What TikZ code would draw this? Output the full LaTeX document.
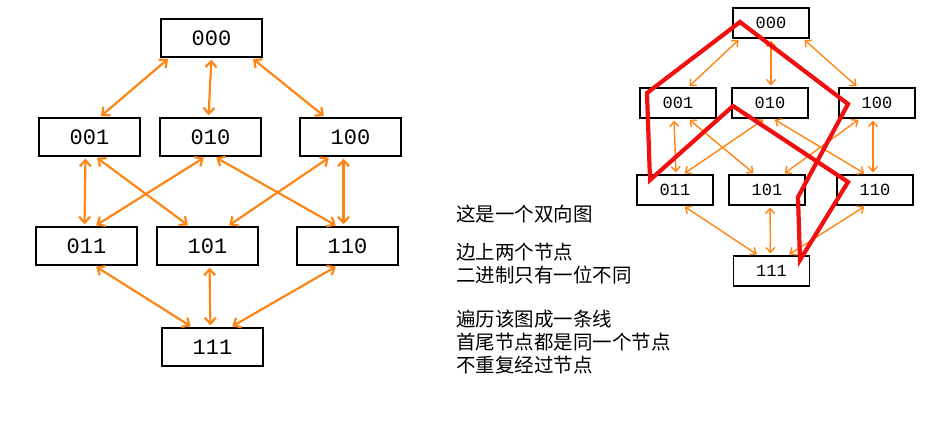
\documentclass[tikz,border=0pt]{standalone}
\usepackage{fontspec}
\setmonofont{Liberation Mono}
\newfontfamily\cjk{Noto Sans CJK SC}
\usetikzlibrary{arrows.meta}
\definecolor{org}{RGB}{255,133,20}
\definecolor{rd}{RGB}{240,16,16}
\begin{document}
\begin{tikzpicture}[x=1pt,y=-1pt,
 bigbox/.style={draw,line width=1.3pt,minimum width=101pt,minimum height=38pt,inner sep=0pt,font=\ttfamily\fontsize{22}{22}\selectfont},
 smallbox/.style={draw,line width=1.1pt,minimum width=76pt,minimum height=30pt,inner sep=0pt,font=\ttfamily\fontsize{17}{17}\selectfont},
 arr/.style={draw=org,line width=2.2pt,{Straight Barb[length=6pt,width=11pt]}-{Straight Barb[length=6pt,width=11pt]},shorten <=2pt,shorten >=2pt},
 sarr/.style={draw=org,line width=1.4pt,{Straight Barb[length=5pt,width=9pt]}-{Straight Barb[length=5pt,width=9pt]},shorten <=2pt,shorten >=2pt},
 txt/.style={anchor=north west,align=left,font=\cjk\fontsize{19.5}{23}\selectfont,inner sep=0pt}]
\useasboundingbox (0,0) rectangle (938,429);
% left
\node[bigbox] (a0) at (211.5,38) {000};
\node[bigbox] (a1) at (89.5,137) {001};
\node[bigbox] (a2) at (210.5,137) {010};
\node[bigbox] (a4) at (350.5,137) {100};
\node[bigbox] (a3) at (86.5,246) {011};
\node[bigbox] (a5) at (207.5,246) {101};
\node[bigbox] (a6) at (347.5,246) {110};
\node[bigbox] (a7) at (212.5,347) {111};
\draw[arr] ([xshift=-42pt]a0.south) -- ([xshift=10pt]a1.north);
\draw[arr] ([xshift=0pt]a0.south) -- ([xshift=-2pt]a2.north);
\draw[arr] ([xshift=40pt]a0.south) -- ([xshift=-25pt]a4.north);
\draw[arr] ([xshift=-4pt]a1.south) -- ([xshift=-2pt]a3.north);
\draw[arr] ([xshift=6pt]a1.south) -- ([xshift=-18pt]a5.north);
\draw[arr] ([xshift=-5pt]a2.south) -- ([xshift=8pt]a3.north);
\draw[arr] ([xshift=4pt]a2.south) -- ([xshift=-10pt]a6.north);
\draw[arr] ([xshift=-20pt]a4.south) -- ([xshift=20pt]a5.north);
\draw[arr] ([xshift=-7pt]a4.south) -- ([xshift=-4pt]a6.north);
\draw[arr] ([xshift=8pt]a3.south) -- ([xshift=-20pt]a7.north);
\draw[arr] ([xshift=2pt]a5.south) -- ([xshift=-2pt]a7.north);
\draw[arr] ([xshift=-10pt]a6.south) -- ([xshift=18pt]a7.north);
% text
\node[txt] (t1) at (456,205) {这是一个双向图};
\node[txt] (t2) at (456,243) {边上两个节点\\二进制只有一位不同};
\node[txt] (t3) at (456,310) {遍历该图成一条线\\首尾节点都是同一个节点\\不重复经过节点};
% right
\node[smallbox] (b0) at (771,23) {000};
\node[smallbox] (b1) at (678,103) {001};
\node[smallbox] (b2) at (770,103) {010};
\node[smallbox] (b4) at (877,103) {100};
\node[smallbox] (b3) at (675,190) {011};
\node[smallbox] (b5) at (767,190) {101};
\node[smallbox] (b6) at (875,190) {110};
\node[smallbox] (b7) at (771.5,271) {111};
\draw[sarr] ([xshift=-31pt]b0.south) -- ([xshift=10pt]b1.north);
\draw[sarr] ([xshift=0pt]b0.south) -- ([xshift=1pt]b2.north);
\draw[sarr] ([xshift=32pt]b0.south) -- ([xshift=-19pt]b4.north);
\draw[sarr] ([xshift=-4pt]b1.south) -- ([xshift=1pt]b3.north);
\draw[sarr] ([xshift=10pt]b1.south) -- ([xshift=-12pt]b5.north);
\draw[sarr] ([xshift=-5pt]b2.south) -- ([xshift=8pt]b3.north);
\draw[sarr] ([xshift=3pt]b2.south) -- ([xshift=-9pt]b6.north);
\draw[sarr] ([xshift=-17pt]b4.south) -- ([xshift=16pt]b5.north);
\draw[sarr] ([xshift=-4pt]b4.south) -- ([xshift=-2pt]b6.north);
\draw[sarr] ([xshift=8pt]b3.south) -- ([xshift=-13pt]b7.north);
\draw[sarr] ([xshift=3pt]b5.south) -- ([xshift=-1pt]b7.north);
\draw[sarr] ([xshift=-9pt]b6.south) -- ([xshift=16pt]b7.north);
% red path
\coordinate (r0) at (740,22);
\draw[rd,line width=4.2pt,line join=miter] (r0) -- (647,93) -- (650,180) -- (733,106) -- (848,182) -- (800,260) -- (798,197) -- (848,104) -- cycle;
\end{tikzpicture}
\end{document}
